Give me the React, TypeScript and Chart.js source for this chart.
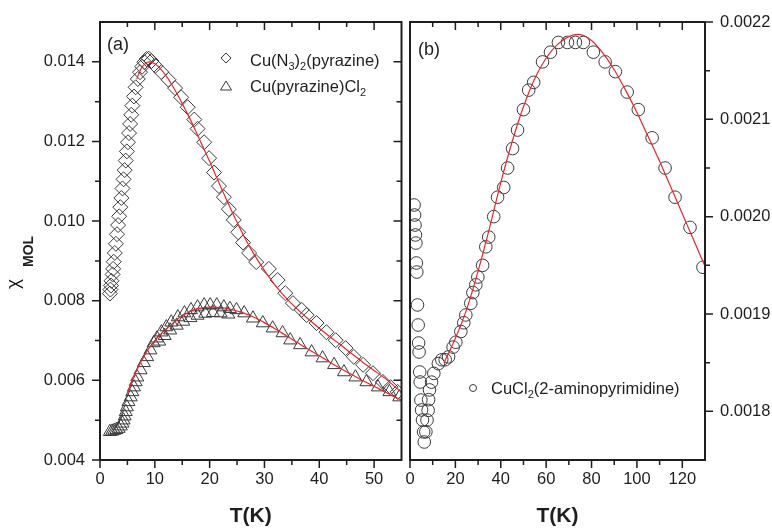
import React, { useEffect, useRef } from 'react';
import { Chart, registerables } from 'chart.js';
Chart.register(...registerables);

const FONT = '"Liberation Sans", Arial, Helvetica, sans-serif';
const INK = '#1e1e1e';
const MARK = '#3a3a3a';
const RED = '#e8262b';

// ---------- panel (a) ----------
const diamondT = [1.8, 1.9, 2.0, 2.1, 2.3, 2.4, 2.5, 2.7, 2.9, 3.1, 3.3, 3.5, 3.7, 3.9, 4.1, 4.3, 4.5, 4.7, 4.9, 5.1, 5.3, 5.5, 5.7, 5.9, 6.2, 6.5, 6.9, 7.3, 7.7, 8.1, 8.5, 8.9, 9.4, 10.1, 11.2, 12.5, 13.7, 14.8, 16.0, 17.2, 17.8, 19.0, 19.9, 20.8, 21.7, 22.6, 23.5, 24.4, 25.2, 26.1, 27.2, 28.5, 30.8, 32.4, 33.8, 35.2, 36.8, 37.7, 39.5, 41.3, 43.0, 44.8, 46.3, 48.0, 49.8, 51.6, 53.0, 54.3];
const diamondChi = [0.00818, 0.00828, 0.00838, 0.0085, 0.00866, 0.0088, 0.00898, 0.0092, 0.00943, 0.00967, 0.0099, 0.01012, 0.01035, 0.01058, 0.01082, 0.01105, 0.01128, 0.01152, 0.01175, 0.01198, 0.01221, 0.01244, 0.01267, 0.0129, 0.01313, 0.01336, 0.01357, 0.01374, 0.01388, 0.01399, 0.01407, 0.01408, 0.01402, 0.0139, 0.01374, 0.01355, 0.01334, 0.01311, 0.01286, 0.01255, 0.01232, 0.01198, 0.01158, 0.01122, 0.01088, 0.0106, 0.0103, 0.01003, 0.00972, 0.00946, 0.0092, 0.00897, 0.0088, 0.00852, 0.00819, 0.00794, 0.00777, 0.00764, 0.00744, 0.00721, 0.00701, 0.00681, 0.00659, 0.00639, 0.00618, 0.00596, 0.00583, 0.00571];

const diamondFitT = [6.7, 7.5, 8.3, 9, 10, 11, 12, 13, 14, 15, 16, 17, 18, 19, 20, 21, 22, 23, 24, 25, 26, 27, 28, 29, 30, 32, 34, 36, 38, 40, 42, 44, 46, 48, 50, 52, 55];
const diamondFitChi = [0.01357, 0.01383, 0.01396, 0.014, 0.01395, 0.01383, 0.01366, 0.01345, 0.01321, 0.01295, 0.01268, 0.0124, 0.0121, 0.0118, 0.0115, 0.01118, 0.01087, 0.01056, 0.01026, 0.00997, 0.00969, 0.00943, 0.00919, 0.00897, 0.00876, 0.00838, 0.00806, 0.00779, 0.00754, 0.00731, 0.00709, 0.00688, 0.00666, 0.00645, 0.00625, 0.00605, 0.0057];

const triT = [1.8, 2.2, 2.6, 3.0, 3.4, 3.8, 4.1, 4.3, 4.5, 4.7, 4.9, 5.2, 5.6, 5.9, 6.2, 6.5, 6.8, 7.4, 8.0, 8.6, 9.2, 9.8, 10.4, 11.2, 12.1, 13.0, 14.2, 15.4, 16.6, 17.8, 19.0, 20.1, 21.3, 22.6, 23.7, 24.9, 26.3, 27.9, 29.7, 31.5, 33.3, 34.7, 36.5, 38.6, 40.6, 42.7, 44.5, 46.6, 48.6, 50.7, 52.8, 54.6,
  10.8, 11.8, 12.8, 14.0, 15.2, 16.5, 17.8, 19.2, 20.6, 22.0, 23.4];
const triChi = [0.00471, 0.00472, 0.00474, 0.00476, 0.00479, 0.00485, 0.00492, 0.005, 0.0051, 0.00521, 0.00533, 0.00546, 0.00558, 0.00571, 0.00583, 0.00596, 0.00608, 0.00626, 0.00644, 0.00659, 0.00676, 0.00694, 0.00706, 0.00721, 0.00734, 0.00746, 0.00759, 0.00769, 0.00777, 0.00784, 0.00789, 0.00789, 0.00789, 0.00784, 0.0078, 0.00777, 0.00769, 0.00756, 0.00744, 0.00731, 0.00719, 0.00701, 0.00689, 0.00671, 0.00656, 0.00639, 0.00621, 0.00608, 0.00596, 0.00583, 0.00571, 0.00558,
  0.00698, 0.00712, 0.00726, 0.00738, 0.00748, 0.00757, 0.00763, 0.00768, 0.0077, 0.00769, 0.00766];

const triFitT = [5, 6, 7, 8, 9, 10, 11, 12, 13, 14, 15, 16, 17, 18, 19, 20, 21, 22, 23, 24, 26, 28, 30, 32, 34, 36, 38, 40, 42, 44, 46, 48, 50, 52, 55];
const triFitChi = [0.00568, 0.00605, 0.00634, 0.0066, 0.00682, 0.007, 0.00715, 0.00728, 0.0074, 0.00752, 0.00762, 0.0077, 0.00777, 0.00781, 0.00783, 0.00784, 0.00784, 0.00783, 0.00781, 0.00778, 0.0077, 0.00759, 0.00745, 0.00729, 0.00712, 0.00695, 0.00678, 0.00662, 0.00645, 0.00629, 0.00614, 0.00599, 0.00585, 0.00571, 0.0055];

// ---------- panel (b) ----------
const circT = [1.8, 2.0, 2.2, 2.4, 2.6, 2.8, 3.0, 3.3, 3.6, 3.8, 4.0, 4.3, 4.5, 4.8, 5.1, 5.5, 6.0, 6.3,
  7.0, 7.5, 8.0, 8.2, 8.6, 9.5, 10.5, 12.5, 14.0, 15.5, 17.0, 19.0, 20.2, 22.4, 23.7, 24.6, 26.8, 27.7, 29.0, 29.9, 32.0, 33.4, 34.7, 36.9, 38.6, 41.3, 43.0, 45.2, 47.4, 50.0, 52.3, 54.5, 58.4, 61.9, 65.4, 69.4, 72.9, 76.4, 80.8, 86.0, 90.5, 95.7, 100.6, 106.7, 112.4, 116.8, 123.4, 129.1];
const circChi = [0.002012, 0.0020017, 0.0019914, 0.0019812, 0.0019729, 0.0019524, 0.0019431, 0.0019093, 0.0018887, 0.0018702, 0.001861, 0.0018404, 0.0018301, 0.0018116, 0.0018014, 0.0017911, 0.0017788, 0.0017685,
  0.001779, 0.001791, 0.001801, 0.001812, 0.001822, 0.00183, 0.001839, 0.001849, 0.001853, 0.001853, 0.001856, 0.001866, 0.001871, 0.001882, 0.001891, 0.001899, 0.001911, 0.001922, 0.00193, 0.001938, 0.00195, 0.001969, 0.001979, 0.002, 0.00202, 0.00203, 0.00205, 0.00207, 0.002089, 0.00211, 0.00213, 0.002138, 0.002159, 0.002169, 0.002179, 0.002179, 0.002179, 0.002179, 0.002169, 0.002159, 0.002149, 0.002128, 0.00211, 0.002081, 0.00205, 0.00202, 0.001989, 0.001948];

const circFitT = [15, 20, 25, 30, 35, 40, 45, 50, 55, 60, 65, 70, 75, 80, 85, 90, 95, 100, 105, 110, 115, 120, 125, 130];
const circFitChi = [0.00185, 0.001875, 0.001905, 0.001944, 0.001988, 0.002035, 0.002077, 0.002113, 0.002142, 0.002163, 0.002177, 0.002185, 0.002187, 0.002181, 0.002168, 0.002151, 0.00213, 0.002107, 0.002082, 0.002057, 0.00203, 0.002003, 0.001976, 0.001949];

// ---------- ticks ----------
const aXMajor = [0, 10, 20, 30, 40, 50];
const aXMinor = [5, 15, 25, 35, 45];
const aYMajor = [0.004, 0.006, 0.008, 0.01, 0.012, 0.014];
const aYMinor = [0.005, 0.007, 0.009, 0.011, 0.013];
const bXMajor = [0, 20, 40, 60, 80, 100, 120];
const bXMinor = [10, 30, 50, 70, 90, 110];
const bYMajor = [0.0018, 0.0019, 0.002, 0.0021, 0.0022];
const bYMinor = [0.00185, 0.00195, 0.00205, 0.00215];

const pts = (xs: number[], ys: number[]) => xs.map((x, i) => ({ x, y: ys[i] }));

function drawRich(ctx: CanvasRenderingContext2D, parts: [string, boolean][], x: number, y: number, size: number) {
  let cx = x;
  ctx.textAlign = 'left';
  ctx.textBaseline = 'alphabetic';
  for (const [t, sub] of parts) {
    ctx.font = `${sub ? 11 : size}px ${FONT}`;
    ctx.fillText(t, cx, sub ? y + 4 : y);
    cx += ctx.measureText(t).width;
  }
}

function framePlugin(o: { xMajor: number[]; xMinor: number[]; yMajor: number[]; yMinor: number[]; ySide: 'left' | 'right'; mirrorY: boolean; extra: (ctx: CanvasRenderingContext2D) => void }) {
  return {
    id: 'frameTicks',
    afterDraw(chart: any) {
      const { ctx, chartArea: a } = chart;
      const xs = chart.scales.x;
      const ys = chart.scales.y;
      ctx.save();
      ctx.strokeStyle = INK;
      ctx.lineWidth = 1.5;
      ctx.beginPath();
      const seg = (x1: number, y1: number, x2: number, y2: number) => { ctx.moveTo(x1, y1); ctx.lineTo(x2, y2); };
      const xt = (vals: number[], len: number) => vals.forEach(v => {
        const p = xs.getPixelForValue(v);
        seg(p, a.bottom, p, a.bottom + len);
        seg(p, a.top, p, a.top + len);
      });
      const yt = (vals: number[], len: number) => vals.forEach(v => {
        const p = ys.getPixelForValue(v);
        if (o.ySide === 'left') {
          seg(a.left, p, a.left - len, p);
          if (o.mirrorY) seg(a.right, p, a.right - len, p);
        } else {
          seg(a.right, p, a.right + len, p);
        }
      });
      xt(o.xMajor, 8); xt(o.xMinor, 5);
      yt(o.yMajor, 8); yt(o.yMinor, 5);
      ctx.stroke();
      ctx.lineWidth = 2;
      ctx.strokeRect(a.left, a.top, a.right - a.left, a.bottom - a.top);
      ctx.fillStyle = INK;
      o.extra(ctx);
      ctx.restore();
    },
  };
}

const markerDs = (label: string, data: any[], style: string, r: number) => ({
  label, data, showLine: false, pointStyle: style, pointRadius: r, pointBorderWidth: 1,
  pointBorderColor: MARK, pointBackgroundColor: 'rgba(0,0,0,0)', borderColor: MARK, order: 2,
});
const fitDs = (data: any[]) => ({
  label: 'fit', data, showLine: true, pointRadius: 0, borderColor: RED, borderWidth: 1.2, tension: 0.3, fill: false, order: 1,
});

const tickFont = { family: FONT, size: 16.5 };
const titleFont = { family: FONT, size: 21, weight: 'bold' as const };

const noPad = (s: any) => { s.paddingLeft = 0; s.paddingRight = 0; s.paddingTop = 0; s.paddingBottom = 0; };

function xScale(min: number, max: number, major: number[]) {
  return {
    type: 'linear', position: 'bottom', min, max,
    afterBuildTicks: (s: any) => { s.ticks = major.map(v => ({ value: v })); },
    afterFit: (s: any) => { s.height = 71; noPad(s); },
    grid: { display: false, drawTicks: false }, border: { display: false },
    ticks: { font: tickFont, color: INK, padding: 10, autoSkip: false, maxRotation: 0, callback: (v: any) => String(v) },
    title: { display: true, text: 'T(K)', font: titleFont, color: INK, padding: { top: 0, bottom: 2 } },
  };
}

export default function App() {
  const refA = useRef<HTMLCanvasElement>(null);
  const refB = useRef<HTMLCanvasElement>(null);

  useEffect(() => {
    const chartA = new Chart(refA.current!, {
      type: 'scatter',
      data: {
        datasets: [
          fitDs(pts(diamondFitT, diamondFitChi)),
          fitDs(pts(triFitT, triFitChi)),
          markerDs('Cu(N3)2(pyrazine)', pts(diamondT, diamondChi), 'rectRot', 7.5),
          markerDs('Cu(pyrazine)Cl2', pts(triT, triChi), 'triangle', 7.5),
        ] as any,
      },
      options: {
        responsive: false, animation: false,
        layout: { padding: { top: 22, right: 1, left: 0, bottom: 0 } },
        plugins: { legend: { display: false }, tooltip: { enabled: false } },
        scales: {
          x: xScale(0, 55, aXMajor),
          y: {
            type: 'linear', position: 'left', min: 0.004, max: 0.015,
            afterBuildTicks: (s: any) => { s.ticks = aYMajor.map(v => ({ value: v })); },
            afterFit: (s: any) => { s.width = 100; noPad(s); },
            grid: { display: false, drawTicks: false }, border: { display: false },
            ticks: { font: tickFont, color: INK, padding: 15, autoSkip: false, callback: (v: any) => Number(v).toFixed(3) },
          },
        } as any,
      },
      plugins: [framePlugin({
        xMajor: aXMajor, xMinor: aXMinor, yMajor: aYMajor, yMinor: aYMinor, ySide: 'left', mirrorY: true,
        extra: (ctx) => {
          ctx.font = `18px ${FONT}`;
          ctx.textAlign = 'left'; ctx.textBaseline = 'middle';
          ctx.fillText('(a)', 107, 45);
          // legend
          ctx.strokeStyle = MARK; ctx.lineWidth = 1;
          ctx.beginPath();
          ctx.moveTo(221, 58); ctx.lineTo(226, 53); ctx.lineTo(231, 58); ctx.lineTo(226, 63); ctx.closePath();
          ctx.stroke();
          ctx.beginPath();
          ctx.moveTo(226, 81); ctx.lineTo(231.5, 90); ctx.lineTo(220.5, 90); ctx.closePath();
          ctx.stroke();
          drawRich(ctx, [['Cu(N', false], ['3', true], [')', false], ['2', true], ['(pyrazine)', false]], 250, 65.5, 16.5);
          drawRich(ctx, [['Cu(pyrazine)Cl', false], ['2', true]], 250, 91.5, 16.5);
          // y title
          ctx.save();
          ctx.translate(20, 262);
          ctx.rotate(-Math.PI / 2);
          ctx.textBaseline = 'alphabetic';
          ctx.font = `19px ${FONT}`;
          ctx.fillText('χ', -27, -1);
          ctx.font = `bold 14px ${FONT}`;
          ctx.fillText('MOL', -5, 13);
          ctx.restore();
        },
      }) as any],
    });

    const chartB = new Chart(refB.current!, {
      type: 'scatter',
      data: {
        datasets: [
          fitDs(pts(circFitT, circFitChi)),
          markerDs('CuCl2(2-aminopyrimidine)', pts(circT, circChi), 'circle', 6.3),
        ] as any,
      },
      options: {
        responsive: false, animation: false,
        layout: { padding: { top: 22, right: 0, left: 10, bottom: 0 } },
        plugins: { legend: { display: false }, tooltip: { enabled: false } },
        scales: {
          x: xScale(0, 130, bXMajor),
          y: {
            type: 'linear', position: 'right', min: 0.00175, max: 0.0022,
            afterBuildTicks: (s: any) => { s.ticks = bYMajor.map(v => ({ value: v })); },
            afterFit: (s: any) => { s.width = 67; noPad(s); },
            grid: { display: false, drawTicks: false }, border: { display: false },
            ticks: { font: tickFont, color: INK, padding: 15, autoSkip: false, callback: (v: any) => Number(v).toFixed(4) },
          },
        } as any,
      },
      plugins: [framePlugin({
        xMajor: bXMajor, xMinor: bXMinor, yMajor: bYMajor, yMinor: bYMinor, ySide: 'right', mirrorY: false,
        extra: (ctx) => {
          ctx.font = `18px ${FONT}`;
          ctx.textAlign = 'left'; ctx.textBaseline = 'middle';
          ctx.fillText('(b)', 18, 50);
          ctx.strokeStyle = MARK; ctx.lineWidth = 1;
          ctx.beginPath();
          ctx.arc(73, 388, 3.5, 0, Math.PI * 2);
          ctx.stroke();
          drawRich(ctx, [['CuCl', false], ['2', true], ['(2-aminopyrimidine)', false]], 91, 393.5, 16.5);
        },
      }) as any],
    });

    return () => { chartA.destroy(); chartB.destroy(); };
  }, []);

  return (
    <div style={{ position: 'fixed', left: 0, top: 0, width: 772, height: 531, background: '#fff' }}>
      <canvas ref={refA} width={410} height={531} style={{ position: 'absolute', left: 0, top: 0 }} />
      <canvas ref={refB} width={372} height={531} style={{ position: 'absolute', left: 400, top: 0 }} />
    </div>
  );
}
